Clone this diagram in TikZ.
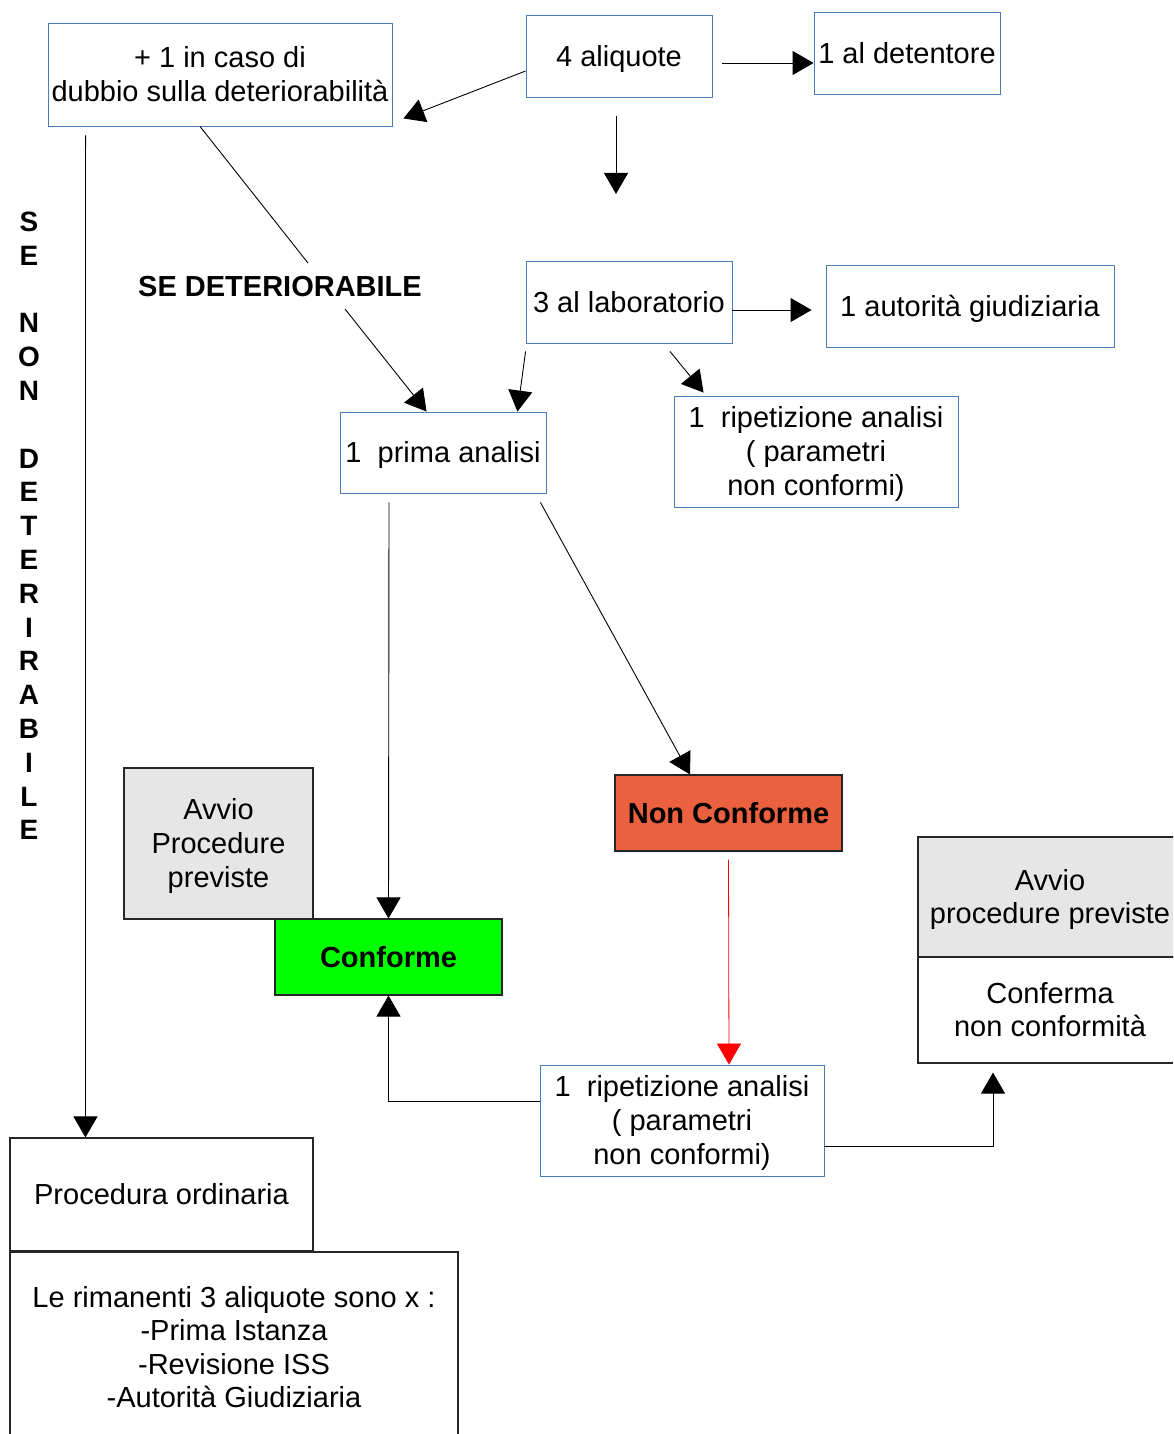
\documentclass[tikz,border=0pt]{standalone}
\usepackage{fontspec}
\setmainfont{Liberation Sans}
\usetikzlibrary{arrows.meta,calc}
\definecolor{boxblue}{HTML}{4A7EBB}
\definecolor{boxgray}{HTML}{E6E6E6}
\definecolor{okgreen}{HTML}{00FF00}
\definecolor{nokred}{HTML}{EB613F}
\newcommand\myfs{\fontsize{29}{33.6}\selectfont}
\newcommand\ms{\rule[-6.1pt]{0pt}{32.3pt}}
\begin{document}
\begin{tikzpicture}[x=1pt,y=-1pt,
  bluebox/.style={draw=boxblue, line width=0.9pt, fill=white, inner sep=0pt, align=center, font=\myfs},
  blackbox/.style={draw=black!85, line width=1.1pt, inner sep=0pt, align=center, font=\myfs},
  arr/.style={-{Triangle[length=21pt,width=24pt]}, line width=0.9pt},
  plain/.style={line width=0.9pt}]
\useasboundingbox (0,0) rectangle (1173,1434);
\clip (0,0) rectangle (1173,1434);
\fill[white] (0,0) rectangle (1173,1434);

% boxes
\node[bluebox, minimum width=344pt, minimum height=103pt] (A) at (220,74.5) {\ms + 1 in caso di\\dubbio sulla deteriorabilità\ms};
\node[bluebox, minimum width=186pt, minimum height=82pt] (B) at (619,56) {\ms 4 aliquote};
\node[bluebox, minimum width=186pt, minimum height=82pt] (C) at (907,53) {\ms 1 al detentore};
\node[bluebox, minimum width=206pt, minimum height=82pt] (D) at (629,302) {\ms 3 al laboratorio};
\node[bluebox, minimum width=288pt, minimum height=82pt] (E) at (970,306) {\ms 1 autorità giudiziaria};
\node[bluebox, minimum width=206pt, minimum height=81pt] (F) at (443,452.5) {\ms 1\ \ prima analisi};
\node[bluebox, minimum width=284pt, minimum height=111pt] (G) at (816,451.5) {\ms 1\ \ ripetizione analisi\\( parametri\\non conformi)\ms};
\node[blackbox, fill=boxgray, minimum width=189pt, minimum height=151pt] (H) at (218.5,843.5) {\ms Avvio\\Procedure\\previste\ms};
\node[blackbox, fill=okgreen, minimum width=227pt, minimum height=76pt, font=\bfseries\myfs] (CF) at (388.5,957) {\ms Conforme};
\node[blackbox, fill=nokred, minimum width=227pt, minimum height=76pt, font=\bfseries\myfs] (NC) at (728.5,813) {\ms Non Conforme};
\node[bluebox, minimum width=284pt, minimum height=111pt] (J) at (682,1120.5) {\ms 1\ \ ripetizione analisi\\( parametri\\non conformi)\ms};
\node[blackbox, fill=boxgray, minimum width=264pt, minimum height=120pt] (Kt) at (1050,897) {\ms Avvio\\procedure previste\ms};
\node[blackbox, fill=white, minimum width=264pt, minimum height=106pt] (Kb) at (1050,1010) {\ms Conferma\\non conformità\ms};
\node[blackbox, fill=white, minimum width=303pt, minimum height=113pt] (L) at (161.5,1194.5) {\ms Procedura ordinaria};
\node[blackbox, fill=white, minimum width=448pt, minimum height=191pt] (M) at (234,1347.5) {\ms Le rimanenti 3 aliquote sono x :\\-Prima Istanza\\-Revisione ISS\\-Autorità Giudiziaria\ms};

% labels
\node[font=\bfseries\myfs, inner sep=0pt] (sd) at (280,286) {\ms SE DETERIORABILE};
\node[font=\bfseries\fontsize{28}{33.8}\selectfont, align=center, inner sep=0pt] (vt) at (29,526)
  {S\\E\\~\\N\\O\\N\\~\\D\\E\\T\\E\\R\\I\\R\\A\\B\\I\\L\\E};

% free ends
\coordinate (bdown) at (616,194);
\coordinate (sd1) at (308,263);
\coordinate (sd2) at (345,309);

% connectors
\draw[arr] ([yshift=-15pt]B.west) -- ([xshift=11pt,yshift=8pt]A.south east);
\draw[arr] ([xshift=10pt,yshift=-7pt]B.east) -- ([yshift=-10pt]C.west);
\draw[arr] ([xshift=-3pt,yshift=-19pt]B.south) -- (bdown);
\draw[arr] ([yshift=-8pt]D.east) -- ([xshift=-14pt,yshift=-4pt]E.west);
\draw[arr] ([yshift=-8pt]D.south west) -- ([xshift=-29pt]F.north east);
\draw[arr] ([xshift=41pt,yshift=-8pt]D.south) -- ([xshift=30pt,yshift=3pt]G.north west);
\draw[plain] ([xshift=-20pt]A.south) -- (sd1);
\draw[arr] (sd2) -- ([xshift=87pt]F.north west);
\draw[arr] ([xshift=38pt,yshift=-9pt]A.south west) -- ([xshift=76pt]L.north west);
\draw[arr] ([xshift=-54pt,yshift=-9pt]F.south) -- (CF.north);
\draw[arr] ([xshift=-6pt,yshift=-9pt]F.south east) -- ([xshift=-38.5pt]NC.north);
\draw[arr, red, line width=0.8pt] ([yshift=-8pt]NC.south) -- ([xshift=47pt]J.north);
\draw[arr] ([yshift=19.5pt]J.west) -| (CF.south);
\draw[arr] ([yshift=-25.5pt]J.east) -| ([xshift=-57pt,yshift=-9pt]Kb.south);
\end{tikzpicture}
\end{document}
